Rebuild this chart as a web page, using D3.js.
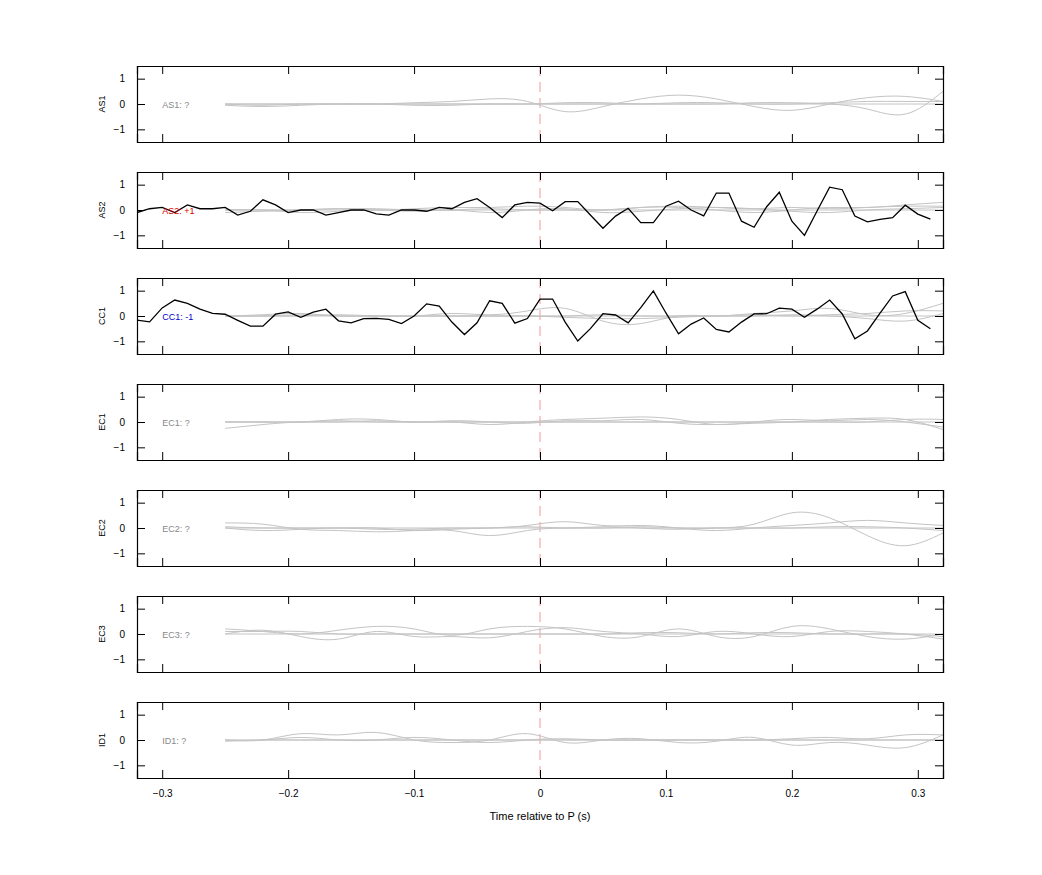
<!DOCTYPE html>
<html>
<head>
<meta charset="utf-8">
<script src="https://cdn.jsdelivr.net/npm/d3@7"></script>
<style>
  body { margin: 0; background: #fff; }
  text { font-family: "Liberation Sans", Arial, sans-serif; }
</style>
</head>
<body>
<svg id="chart" width="1042" height="875"></svg>
<script>
// stations, top to bottom
const stations = ['AS1', 'AS2', 'CC1', 'EC1', 'EC2', 'EC3', 'ID1'];
const labels = ['AS1: ?', 'AS2: +1', 'CC1: -1', 'EC1: ?', 'EC2: ?', 'EC3: ?', 'ID1: ?'];
const labelColors = ['#888', '#d00', '#00c', '#888', '#888', '#888', '#888'];
const xTicks = [-0.3, -0.2, -0.1, 0, 0.1, 0.2, 0.3];
const yTicks = [-1, 0, 1];

// times of the grey (smoothed) traces
const greyTimes = [-0.25, -0.22, -0.19, -0.16, -0.13, -0.10, -0.07, -0.04, -0.01, 0.02,
  0.05, 0.08, 0.11, 0.14, 0.17, 0.20, 0.23, 0.26, 0.29, 0.32];

const greyAS1 = [
  [0, 0, 0, 0, 0, 0.05, 0.1, 0.2, 0.1, -0.3, -0.1, 0.2, 0.35, 0.2, -0.1, -0.25, 0, 0.25, 0.3, 0.1],
  [0, -0.05, 0, 0, 0, -0.05, -0.05, 0, 0, 0.05, 0.05, 0, 0, 0, 0.05, 0.05, 0, -0.2, -0.4, 0.5],
  [-0.05, -0.1, -0.05, 0, 0, 0, 0, 0, 0, 0, 0, 0, 0.05, 0.05, 0, 0, 0.05, 0.1, 0.1, 0.1],
  [0, 0, 0, 0, 0, 0, 0, 0, 0, 0, 0, 0, 0, 0, 0, 0, 0, 0, 0, 0]
];
const greyAS2 = [
  [-0.1, -0.05, 0, 0.05, 0, 0.05, 0.1, 0.1, 0.15, 0.1, 0, 0.1, 0.1, 0, -0.1, 0, 0.1, 0.1, 0.2, 0.3],
  [0, 0, -0.1, -0.05, 0, -0.05, 0, -0.1, 0, 0.05, -0.1, -0.05, 0.05, 0.1, 0.05, -0.05, -0.1, 0, 0.05, 0.1],
  [0, 0, 0, 0.05, 0.05, 0, 0, 0.05, 0, 0, 0, 0.1, 0.15, 0.1, 0.05, 0.1, 0.05, 0.1, 0.15, 0.15],
  [0, 0, 0, 0, 0, 0, 0, 0, 0, 0, 0, 0, 0, 0, 0, 0, 0, 0, 0, 0]
];
const greyCC1 = [
  [0, 0.05, 0.1, 0, 0, 0, 0.1, 0.05, 0.2, 0.3, -0.2, -0.3, 0, 0, 0.1, 0.2, 0.3, 0.05, 0.1, 0.5],
  [0, 0, 0, 0.05, 0, 0, 0, 0, 0, -0.05, -0.1, -0.1, -0.05, 0, 0, 0.05, 0, -0.1, -0.2, 0.1],
  [0, 0, 0.05, 0, 0, 0, 0, 0, 0, 0, 0.05, 0, 0, 0, 0.05, 0, 0.05, 0.1, 0.2, 0.2],
  [0, 0, 0, 0, 0, 0, 0, 0, 0, 0, 0, 0, 0, 0, 0, 0, 0, 0, 0, 0]
];
const greyEC1 = [
  [-0.25, -0.1, 0, 0, 0.05, 0, 0, -0.1, 0, 0.1, 0.15, 0.2, 0.1, -0.1, 0, 0.1, 0.05, 0.1, 0, -0.2],
  [0, 0, 0, 0.1, 0.1, 0, 0.05, 0, -0.05, 0.05, 0.05, 0.1, -0.05, -0.1, -0.05, 0, 0.1, 0.15, 0.1, -0.3],
  [0, 0, 0, 0.05, 0, 0, 0, 0, 0, 0, 0, 0, 0, 0, 0, 0, 0, 0, 0.1, 0.1],
  [0, 0, 0, 0, 0, 0, 0, 0, 0, 0, 0, 0, 0, 0, 0, 0, 0, 0, 0, 0]
];
const greyEC2 = [
  [0.2, 0.15, -0.05, -0.1, -0.15, -0.1, -0.1, -0.3, -0.1, 0, 0, 0.05, 0, 0, 0.15, 0.6, 0.4, -0.3, -0.7, -0.2],
  [0, -0.1, -0.05, 0, -0.05, -0.05, 0, 0, 0.1, 0.25, 0.1, 0.1, 0, -0.1, 0, 0.1, 0.2, 0.3, 0.2, 0.1],
  [0.05, 0, 0, 0, 0, -0.1, -0.05, 0, 0.05, 0, 0.05, 0, -0.05, 0, 0, 0, 0.05, 0.05, 0, -0.1],
  [0, 0, 0, 0, 0, 0, 0, 0, 0, 0, 0, 0, 0, 0, 0, 0, 0, 0, 0, 0]
];
const greyEC3 = [
  [0.2, 0.1, 0, 0.15, 0.3, 0.2, -0.05, 0.2, 0.3, 0.2, -0.1, -0.1, 0.2, -0.1, -0.1, 0.3, 0.2, -0.1, -0.2, 0],
  [0, 0.15, -0.1, -0.2, 0.1, -0.1, -0.1, -0.15, 0.1, 0.25, 0.1, 0, -0.1, 0.1, 0, -0.1, 0.1, 0.1, 0, -0.2],
  [0.1, 0.1, 0.1, 0, 0, 0, 0, 0, 0, 0, 0, 0.05, 0.05, 0, 0.05, 0.05, 0, 0, 0, -0.1],
  [0, 0, 0, 0, 0, 0, 0, 0, 0, 0, 0, 0, 0, 0, 0, 0, 0, 0, 0, 0]
];
const greyID1 = [
  [0, 0, 0.25, 0.2, 0.3, 0, -0.1, 0, 0.25, -0.1, 0, 0.05, -0.1, -0.05, 0.1, -0.2, -0.1, -0.2, -0.3, 0.2],
  [0, 0, 0.1, 0, 0, 0.1, 0, -0.1, 0, 0.05, 0, 0, 0, 0, 0, 0.05, 0.1, 0.05, 0.2, 0.2],
  [-0.05, 0, 0, 0, 0, 0, 0, 0, 0, 0, 0, 0, 0, 0, 0, 0, 0, 0, 0, 0],
  [0, 0, 0, 0, 0, 0, 0, 0, 0, 0, 0, 0, 0, 0, 0, 0, 0, 0, 0, 0]
];
const greyTraces = [greyAS1, greyAS2, greyCC1, greyEC1, greyEC2, greyEC3, greyID1];

// raw black traces, one sample every 0.01 s from -0.32
const blackStart = -0.32;
const blackStep = 0.01;
const blackAS2 = [-0.1, 0.05, 0.1, -0.1, 0.2, 0.05, 0.05, 0.1, -0.2, -0.05, 0.4, 0.2, -0.1, 0, 0, -0.2,
  -0.1, 0, 0, -0.15, -0.2, 0, 0, -0.05, 0.1, 0.05, 0.3, 0.45, 0.1, -0.3, 0.2, 0.3, 0.27,
  -0.03, 0.33, 0.33, -0.2, -0.72, -0.24, 0.07, -0.5, -0.5, 0.15, 0.35, 0, -0.23, 0.67, 0.67,
  -0.44, -0.68, 0.13, 0.7, -0.44, -1.0, -0.04, 0.9, 0.8, -0.24, -0.47, -0.37, -0.3, 0.19, -0.16, -0.36];
const blackCC1 = [-0.16, -0.23, 0.32, 0.63, 0.5, 0.27, 0.1, 0.07, -0.17, -0.4, -0.4, 0.07, 0.16, -0.05,
  0.15, 0.27, -0.19, -0.27, -0.1, -0.09, -0.13, -0.3, 0, 0.48, 0.39, -0.24, -0.73, -0.27, 0.6, 0.5,
  -0.28, -0.1, 0.67, 0.67, -0.24, -0.99, -0.5, 0.09, 0.04, -0.27, 0.33, 0.99, 0.12, -0.7, -0.32,
  -0.08, -0.53, -0.63, -0.24, 0.08, 0.09, 0.31, 0.27, -0.05, 0.27, 0.63, 0.08, -0.9, -0.59, 0.11,
  0.79, 0.96, -0.17, -0.5];
const blackTraces = [null, blackAS2, blackCC1, null, null, null, null];

const svg = d3.select('#chart');
const left = 137, width = 806, top0 = 66, panelH = 76, pitch = 106;

const x = d3.scaleLinear().domain([-0.32, 0.32]).range([left, left + width]);

stations.forEach((name, i) => {
  const top = top0 + i * pitch;
  const y = d3.scaleLinear().domain([-1.5, 1.5]).range([top + panelH, top]);
  const g = svg.append('g');

  const clipId = 'clip' + i;
  svg.append('clipPath').attr('id', clipId)
    .append('rect').attr('x', left).attr('y', top).attr('width', width).attr('height', panelH);

  // P arrival marker
  g.append('line')
    .attr('x1', x(0)).attr('x2', x(0))
    .attr('y1', top).attr('y2', top + panelH)
    .attr('stroke', '#f08080').attr('stroke-width', 0.8)
    .attr('stroke-dasharray', '10,6');

  const line = d3.line().curve(d3.curveNatural)
    .x((d, k) => x(greyTimes[k])).y(d => y(d));
  g.append('g').attr('clip-path', `url(#${clipId})`)
    .selectAll('path').data(greyTraces[i]).join('path')
    .attr('d', line)
    .attr('fill', 'none').attr('stroke', '#c4c4c4').attr('stroke-width', 1);

  if (blackTraces[i]) {
    const bl = d3.line()
      .x((d, k) => x(blackStart + k * blackStep)).y(d => y(d));
    g.append('path').datum(blackTraces[i])
      .attr('clip-path', `url(#${clipId})`)
      .attr('d', bl).attr('fill', 'none')
      .attr('stroke', '#000').attr('stroke-width', 1.3);
  }

  g.append('text')
    .attr('x', x(-0.3)).attr('y', y(0) + 4)
    .attr('font-size', 9).attr('fill', labelColors[i])
    .text(labels[i]);

  // axes with inward ticks on all four sides
  g.append('g').attr('transform', `translate(${left},0)`)
    .call(d3.axisLeft(y).tickValues(yTicks).tickSize(-8).tickPadding(12).tickFormat(d3.format('d')));
  g.append('g').attr('transform', `translate(${left + width},0)`)
    .call(d3.axisRight(y).tickValues(yTicks).tickSize(-8).tickFormat(''));
  g.append('g').attr('transform', `translate(0,${top})`)
    .call(d3.axisTop(x).tickValues(xTicks).tickSize(-8).tickFormat(''));
  const xb = g.append('g').attr('transform', `translate(0,${top + panelH})`)
    .call(d3.axisBottom(x).tickValues(xTicks).tickSize(-8).tickPadding(12)
      .tickFormat(i === stations.length - 1 ? d3.format('') : ''));

  g.selectAll('.domain').attr('stroke', '#000').attr('stroke-width', 1.2);
  g.selectAll('.tick line').attr('stroke', '#000');
  g.selectAll('.tick text').attr('font-size', 10).attr('fill', '#000')
    .attr('font-family', '"Liberation Sans", Arial, sans-serif');
  g.selectAll('.domain').each(function () { this.parentNode.appendChild(this); });

  g.append('text')
    .attr('transform', `translate(105,${top + panelH / 2}) rotate(-90)`)
    .attr('text-anchor', 'middle').attr('font-size', 9)
    .text(name);
});

svg.append('text')
  .attr('x', left + width / 2).attr('y', 820)
  .attr('text-anchor', 'middle').attr('font-size', 11)
  .text('Time relative to P (s)');
</script>
</body>
</html>
